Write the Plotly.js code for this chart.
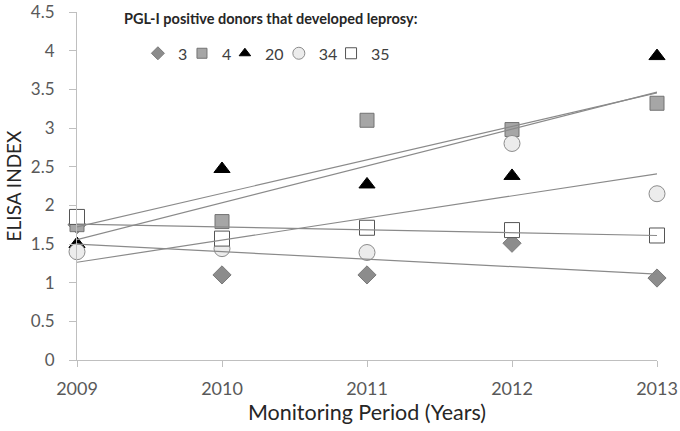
<!DOCTYPE html>
<html>
<head>
<meta charset="utf-8">
<script src="https://cdn.plot.ly/plotly-3.0.1.min.js"></script>
<style>
  html, body { margin: 0; padding: 0; background: #fff; }
  #chart { width: 680px; height: 431px; }
</style>
</head>
<body>
<div id="chart"></div>
<script>
// years of monitoring
const years = [2009, 2010, 2011, 2012, 2013];

// ELISA index per donor
const donor3 = [1.75, 1.10, 1.10, 1.51, 1.06];
const donor4 = [1.75, 1.79, 3.10, 2.98, 3.32];
const donor20 = [1.50, 2.47, 2.27, 2.38, 3.93];
const donor34 = [1.40, 1.44, 1.39, 2.80, 2.15];
const donor35 = [1.85, 1.57, 1.71, 1.68, 1.61];

const donorNames = ["3", "4", "20", "34", "35"];
const donorValues = [donor3, donor4, donor20, donor34, donor35];

const yTicks = [0, 0.5, 1, 1.5, 2, 2.5, 3, 3.5, 4, 4.5];

// marker look for each donor
const markerStyles = [
  { symbol: "diamond", size: 14, color: "#8c8c8c", line: { color: "#7a7a7a", width: 1 } },
  { symbol: "square", size: 14, color: "#a6a6a6", line: { color: "#737373", width: 1 } },
  { symbol: "triangle-up", size: 14, color: "#000000", line: { color: "#000000", width: 1 } },
  { symbol: "circle", size: 16, color: "#ececec", line: { color: "#8c8c8c", width: 1 } },
  { symbol: "square", size: 15, color: "#ffffff", line: { color: "#555555", width: 1 } }
];
// smaller versions for the legend, one little legend box per donor
const legendSizes = [10, 10, 10, 12, 11];
const legendX = [0.105, 0.181, 0.255, 0.348, 0.438];
const legendIds = ["legend", "legend2", "legend3", "legend4", "legend5"];

// least squares line through the points
function linFit(xs, ys) {
  const n = xs.length;
  const mx = xs.reduce((a, b) => a + b, 0) / n;
  const my = ys.reduce((a, b) => a + b, 0) / n;
  let num = 0, den = 0;
  for (let i = 0; i < n; i++) {
    num += (xs[i] - mx) * (ys[i] - my);
    den += (xs[i] - mx) * (xs[i] - mx);
  }
  const slope = num / den;
  return xs.map(x => my + slope * (x - mx));
}

const traces = [];
donorValues.forEach((vals, i) => {
  traces.push({
    x: years,
    y: vals,
    mode: "markers",
    type: "scatter",
    name: donorNames[i],
    showlegend: false,
    marker: markerStyles[i],
    cliponaxis: false
  });
});
donorValues.forEach((vals, i) => {
  traces.push({
    x: years,
    y: linFit(years, vals),
    mode: "lines",
    type: "scatter",
    showlegend: false,
    hoverinfo: "skip",
    line: { color: "#8a8a8a", width: 1.2 },
    cliponaxis: false
  });
});
// legend-only entries
donorNames.forEach((name, i) => {
  traces.push({
    x: [null],
    y: [null],
    mode: "markers",
    type: "scatter",
    name: name,
    legend: legendIds[i],
    showlegend: true,
    marker: Object.assign({}, markerStyles[i], { size: legendSizes[i] })
  });
});

const layout = {
  width: 680,
  height: 431,
  margin: { l: 77, r: 23, t: 12, b: 71 },
  paper_bgcolor: "#ffffff",
  plot_bgcolor: "#ffffff",
  font: { family: "Lato, 'Open Sans', sans-serif", color: "#595959", size: 15 },
  showlegend: true,
  xaxis: {
    range: [2009, 2013],
    tickvals: years,
    ticktext: years.map(String),
    showgrid: false,
    zeroline: false,
    showline: true,
    linecolor: "#bfbfbf",
    linewidth: 1,
    ticks: "outside",
    ticklen: 6,
    tickcolor: "#bfbfbf",
    ticklabelstandoff: 6,
    ticklabeloverflow: "allow",
    tickfont: { size: 18, color: "#595959" },
    title: { text: "Monitoring Period (Years)", font: { size: 21.5, color: "#262626" }, standoff: 6 }
  },
  yaxis: {
    range: [0, 4.5],
    tickvals: yTicks,
    ticktext: yTicks.map(String),
    showgrid: false,
    zeroline: false,
    showline: true,
    linecolor: "#bfbfbf",
    linewidth: 1,
    ticks: "outside",
    ticklen: 7,
    tickcolor: "#bfbfbf",
    ticklabelstandoff: 11,
    ticklabeloverflow: "allow",
    tickfont: { size: 17, color: "#595959" },
    title: { text: "ELISA INDEX", font: { size: 19, color: "#262626" }, standoff: 4 }
  },
  annotations: [{
    text: "<b>PGL-I positive donors that developed leprosy:</b>",
    xref: "paper", yref: "paper",
    x: 0.078, y: 0.98,
    xanchor: "left", yanchor: "middle",
    showarrow: false,
    font: { size: 14.5, color: "#262626" }
  }]
};

// one legend box per donor so the entries sit where they do in the figure
legendIds.forEach((id, i) => {
  layout[id] = {
    orientation: "h",
    x: legendX[i],
    y: 0.93,
    xanchor: "left",
    yanchor: "top",
    bgcolor: "rgba(0,0,0,0)",
    font: { size: 16, color: "#404040" },
    itemwidth: 30
  };
});

Plotly.newPlot("chart", traces, layout, { displayModeBar: false, staticPlot: true });
</script>
</body>
</html>
